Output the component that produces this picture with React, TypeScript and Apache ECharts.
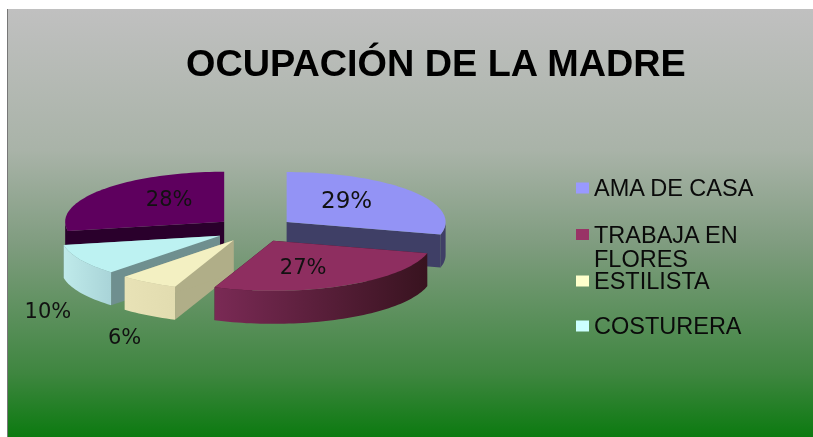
import React, { useEffect, useRef } from "react";
import * as echarts from "echarts";

const TITLE = "OCUPACIÓN DE LA MADRE";
const categories = ["AMA DE CASA", "TRABAJA EN FLORES", "ESTILISTA", "COSTURERA", "OTRA"];
const values = [29, 27, 6, 10, 28];
const labels = ["29%", "27%", "6%", "10%", "28%"];
const legendNames = ["AMA DE CASA", "TRABAJA EN FLORES", "ESTILISTA", "COSTURERA"];
const legendText = ["AMA DE CASA", "\nTRABAJA EN\nFLORES", "ESTILISTA", "COSTURERA"];

const baseColors = ["#9999ff", "#993366", "#ffffcc", "#ccffff", "#660066"];
const topColors = ["#9393f5", "#8e2e60", "#f3f0c2", "#bdf2f2", "#5e005e"];
const radialColors = ["#3f3f66", "#3d1428", "#b0ae88", "#6f8f8f", "#2a002c"];
const wallLeft = ["#3f3f66", "#7a2a55", "#e8e2b6", "#bfeaea", "#2a002c"];
const wallRight = ["#3f3f66", "#38131f", "#e2dcb0", "#a9d4d8", "#2a002c"];
const paintOrder = [4, 0, 3, 2, 1];

const CX = 255, CY = 229.7, RX = 159, RY = 50, DEPTH = 33, EX = 40, EY = 12.5;
const labelOffsets = [[60, -22], [30, 26], [-109, 97], [-172, 75], [-55, -23]];
const legendTops = [171, 193.5, 264, 309];
const legendLineHeights = [24, 24, 20, 24];

const total = values.reduce((a, b) => a + b, 0);
const startOf = (i: number) => values.slice(0, i).reduce((a, b) => a + b, 0) / total * Math.PI * 2;

function renderSlice(i: number) {
  const a0 = startOf(i);
  const a1 = startOf(i + 1);
  const mid = (a0 + a1) / 2;
  const ax = CX + EX * Math.sin(mid);
  const ay = CY - EY * Math.cos(mid);
  const pt = (t: number, d = 0) => [ax + RX * Math.sin(t), ay - RY * Math.cos(t) + d];
  const arc = (s: number, e: number, d = 0) => {
    const n = Math.max(2, Math.ceil((e - s) / 0.03));
    const out: number[][] = [];
    for (let k = 0; k <= n; k++) out.push(pt(s + (e - s) * k / n, d));
    return out;
  };
  const children: any[] = [];
  for (const t of [a0, a1]) {
    const p = pt(t);
    children.push({
      type: "polygon",
      shape: { points: [[ax, ay], p, [p[0], p[1] + DEPTH], [ax, ay + DEPTH]] },
      style: { fill: radialColors[i] },
    });
  }
  const fs = Math.max(a0, Math.PI / 2);
  const fe = Math.min(a1, Math.PI * 1.5);
  if (fe > fs) {
    const upper = arc(fs, fe);
    const lower = arc(fs, fe, DEPTH).reverse();
    const xs = upper.map((p) => p[0]);
    children.push({
      type: "polygon",
      shape: { points: [...upper, ...lower] },
      style: {
        fill: new echarts.graphic.LinearGradient(
          Math.min(...xs), 0, Math.max(...xs), 0,
          [{ offset: 0, color: wallLeft[i] }, { offset: 1, color: wallRight[i] }],
          true
        ),
      },
    });
  }
  children.push({
    type: "polygon",
    shape: { points: [[ax, ay], ...arc(a0, a1)] },
    style: { fill: topColors[i] },
  });
  children.push({
    type: "text",
    z2: 100,
    style: {
      text: labels[i],
      x: ax + labelOffsets[i][0],
      y: ay + labelOffsets[i][1],
      fill: "#111111",
      font: `${i === 0 ? 23 : 21}px "DejaVu Sans"`,
      textAlign: "center",
      textVerticalAlign: "middle",
    },
  });
  return { type: "group", children };
}

export default function App() {
  const ref = useRef<HTMLDivElement>(null);
  useEffect(() => {
    const chart = echarts.init(ref.current!, undefined, { renderer: "svg" });
    chart.setOption({
      animation: false,
      backgroundColor: "#ffffff",
      title: {
        text: TITLE,
        left: 181,
        top: 39,
        textStyle: { fontFamily: "Liberation Sans", fontWeight: "bold", fontSize: 37.8, color: "#000000" },
      },
      legend: legendNames.map((name, i) => ({
        data: [name],
        left: 571,
        top: legendTops[i],
        icon: "rect",
        itemWidth: 13,
        itemHeight: 11,
        itemGap: 6,
        selectedMode: false,
        formatter: () => legendText[i],
        textStyle: { fontFamily: "Liberation Sans", fontSize: 23.5, lineHeight: legendLineHeights[i], color: "#0a0a0a" },
      })),
      graphic: [
        {
          type: "rect",
          z: -10,
          silent: true,
          shape: { x: 7, y: 9, width: 806, height: 428 },
          style: {
            fill: new echarts.graphic.LinearGradient(0, 0, 0, 1, [
              { offset: 0, color: "#c0c0c0" },
              { offset: 0.33, color: "#a9b3a8" },
              { offset: 0.55, color: "#7f9c7f" },
              { offset: 0.85, color: "#3f8640" },
              { offset: 1, color: "#0c7a10" },
            ]),
          },
        },
        { type: "rect", z: -9, silent: true, shape: { x: 7, y: 9, width: 1, height: 428 }, style: { fill: "#777777" } },
      ],
      series: paintOrder.map((i) => ({
        type: "custom",
        name: categories[i],
        coordinateSystem: "none",
        silent: true,
        itemStyle: { color: baseColors[i] },
        data: [[values[i]]],
        renderItem: () => renderSlice(i),
      })),
    });
    return () => chart.dispose();
  }, []);
  return <div ref={ref} style={{ position: "fixed", left: 0, top: 0, width: 813, height: 437, filter: "blur(0.7px)" }} />;
}
